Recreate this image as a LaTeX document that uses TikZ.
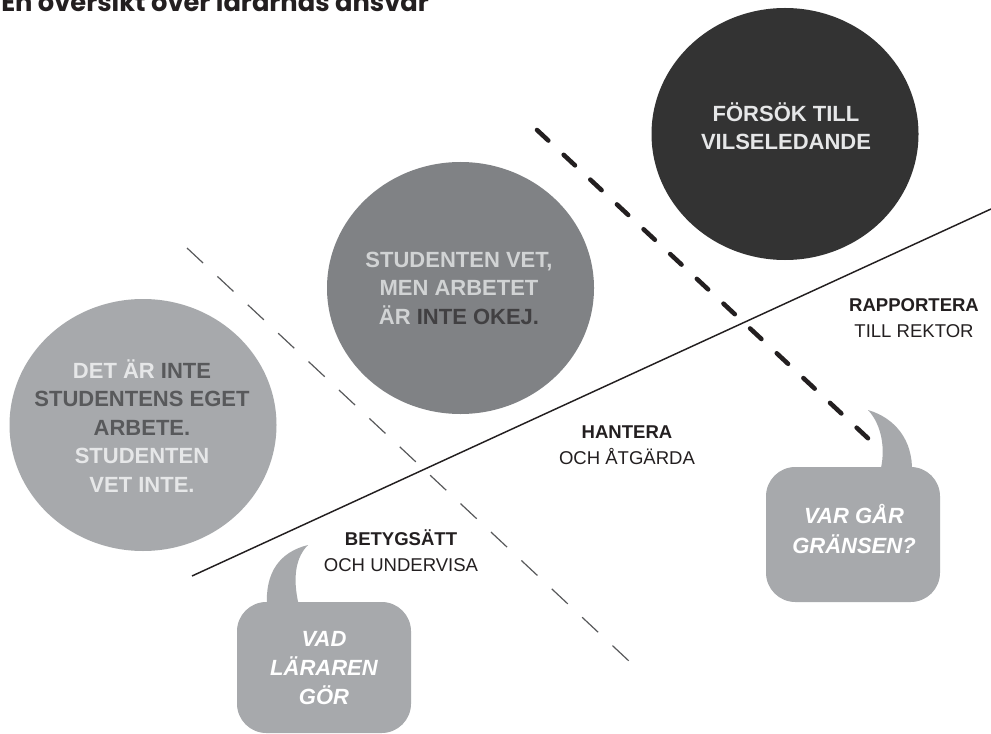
\documentclass[tikz,border=0pt]{standalone}
\usepackage{fontspec}
\setmainfont{Liberation Sans}
\newfontfamily\titlefont{Poppins}
\usetikzlibrary{shapes.geometric}
\definecolor{cLight}{HTML}{A7A9AC}
\definecolor{cMid}{HTML}{808285}
\definecolor{cDark}{HTML}{333333}
\definecolor{cInk}{HTML}{231F20}
\definecolor{cTxtLight}{HTML}{E6E7E8}
\definecolor{cTxtDark}{HTML}{58595B}
\definecolor{cTxtMid}{HTML}{D1D3D4}
\definecolor{cTxtMidDark}{HTML}{414042}
\definecolor{cThin}{HTML}{58595B}
\begin{document}
\begin{tikzpicture}[x=0.75pt,y=-0.75pt,
  blob/.style={ellipse, inner sep=0pt, minimum width=200.25pt, minimum height=189pt},
  circtext/.style={align=center, inner sep=0pt, font=\bfseries\fontsize{16.5pt}{21.4pt}\selectfont},
  steplabel/.style={align=center, inner sep=0pt, text=cInk, font=\fontsize{13.9pt}{19.5pt}\selectfont},
  bubblebody/.style={rectangle, rounded corners=22pt, fill=cLight, inner sep=0pt, minimum width=130.5pt},
  bubbletext/.style={align=center, inner sep=0pt, text=white, font=\bfseries\itshape\fontsize{16.5pt}{21.8pt}\selectfont},
  thickdash/.style={line width=3.4pt, line cap=round, cInk, dash pattern=on 11.6pt off 15.7pt},
  thindash/.style={line width=0.9pt, cThin, dash pattern=on 16.5pt off 14.7pt},
  divider/.style={line width=1.1pt, cInk}
]
\useasboundingbox (0,0) rectangle (991,734);
\clip (0,0) rectangle (991,734);
\fill[white] (0,0) rectangle (991,734);

% title
\node[anchor=base west, inner sep=0pt, text=cInk, font=\titlefont\bfseries\fontsize{19.3pt}{21pt}\selectfont] (title) at (1,12) {En översikt över lärarnas ansvar};

% circles
\node[blob, fill=cLight] (c1) at (143,425) {};
\node[blob, fill=cMid] (c2) at (460.5,288) {};
\node[blob, fill=cDark] (c3) at (785,134) {};

\node[circtext, text=cTxtLight] (t1) at (142,426) {DET ÄR \textcolor{cTxtDark}{INTE}\\ \textcolor{cTxtDark}{STUDENTENS EGET}\\ \textcolor{cTxtDark}{ARBETE.}\\ STUDENTEN\\ VET INTE.};
\node[circtext, text=cTxtMid] (t2) at (459,288) {STUDENTEN VET,\\ MEN ARBETET\\ ÄR \textcolor{cTxtMidDark}{INTE OKEJ.}};
\node[circtext, text=cTxtLight] (t3) at (786,126) {FÖRSÖK TILL\\ VILSELEDANDE};

% lines
\coordinate (s1) at (192,576);
\coordinate (s2) at (991,209);
\draw[divider] (s1) -- (s2);

\coordinate (d1) at (537,130);
\coordinate (d2) at (872,442);
\draw[thickdash] (d1) -- (d2);

\coordinate (e1) at (187,248);
\coordinate (e2) at (630,662);
\draw[thindash] (e1) -- (e2);

% labels
\node[steplabel] (l1) at (914,318) {\textbf{RAPPORTERA}\\ TILL REKTOR};
\node[steplabel] (l2) at (627,445) {\textbf{HANTERA}\\ OCH ÅTGÄRDA};
\node[steplabel] (l3) at (401,551) {\textbf{BETYGSÄTT}\\ OCH UNDERVISA};

% bubble 1
\node[bubblebody, minimum height=98.25pt] (b1) at (324,667.5) {};
\fill[cLight] (267,606) .. controls (265,572) and (280,552) .. (308,545)
  .. controls (296,557) and (292,577) .. (299,606) -- cycle;
\node[bubbletext] (bt1) at (324,668) {VAD\\ LÄRAREN\\ GÖR};

% bubble 2
\node[bubblebody, minimum height=101.25pt] (b2) at (853,534.5) {};
\fill[cLight] (880,472) .. controls (886,450) and (882,425) .. (868,410)
  .. controls (895,418) and (913,440) .. (912,472) -- cycle;
\node[bubbletext] (bt2) at (854,529) {VAR GÅR\\ GRÄNSEN?};
\end{tikzpicture}
\end{document}
